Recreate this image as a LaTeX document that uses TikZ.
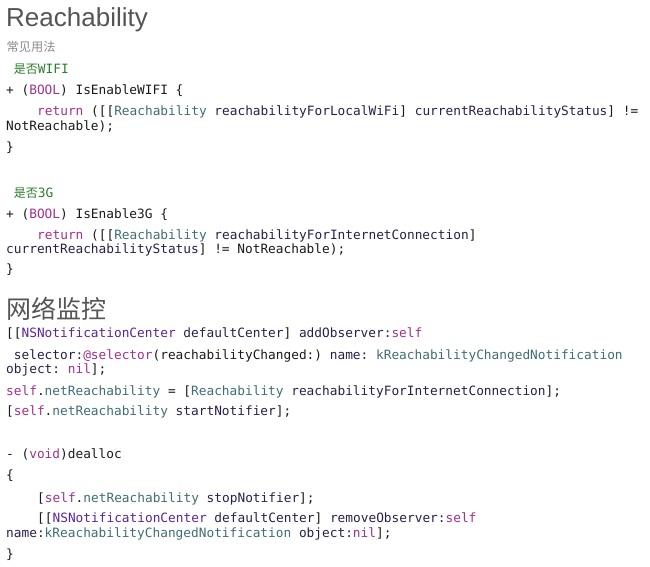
\documentclass[tikz,border=0pt]{standalone}
\usepackage{fontspec}
\setmainfont{Liberation Sans}
\setmonofont{DejaVu Sans Mono}
\newfontfamily\cjk{Noto Sans CJK SC}
\definecolor{kwc}{HTML}{A3308F}
\definecolor{nsc}{HTML}{5C2699}
\definecolor{pjc}{HTML}{3F6E74}
\definecolor{mtc}{HTML}{2B1F4A}
\definecolor{cmc}{HTML}{2A7F2A}
\definecolor{ttlc}{HTML}{555555}
\definecolor{subc}{HTML}{8A8A8A}
\definecolor{codec}{HTML}{1A1A1A}
\newcommand\kw[1]{\textcolor{kwc}{#1}}
\newcommand\nscl[1]{\textcolor{nsc}{#1}}
\newcommand\pj[1]{\textcolor{pjc}{#1}}
\newcommand\mt[1]{\textcolor{mtc}{#1}}
\tikzset{
  code/.style={anchor=base west, inner sep=0pt, text=codec, font=\fontsize{12.8}{15}\selectfont\ttfamily},
  cmt/.style={anchor=base west, inner sep=0pt, text=cmc, font=\fontsize{12.8}{15}\selectfont\ttfamily},
  ttl/.style={anchor=base west, inner sep=0pt, text=ttlc},
}
\begin{document}
\begin{tikzpicture}[x=1pt,y=-1pt]
\fill[white] (0,0) rectangle (650,567);
\useasboundingbox (0,0) rectangle (650,567);
% headings
\node[ttl, font=\fontsize{26}{30}\selectfont] (title) at (6,27) {Reachability};
\node[anchor=base west, inner sep=0pt, text=subc, font=\cjk\fontsize{12.2}{14}\selectfont] (sub) at (6.5,52) {常见用法};
% WIFI
\node[cmt] (c1) at (13.7,74) {{\cjk\fontsize{12}{14}\selectfont 是否}WIFI};
\node[code] (w1) at (6,95) {+ (\kw{BOOL}) IsEnableWIFI \{};
\node[code] (w2) at (37,116) {\kw{return} ([[\pj{Reachability} \mt{reachabilityForLocalWiFi}] \mt{currentReachabilityStatus}] !=};
\node[code] (w3) at (6,131) {NotReachable);};
\node[code] (w4) at (6,151) {\}};
% 3G
\node[cmt] (c2) at (13.7,197) {{\cjk\fontsize{12}{14}\selectfont 是否}3G};
\node[code] (g1) at (6,218) {+ (\kw{BOOL}) IsEnable3G \{};
\node[code] (g2) at (37,239) {\kw{return} ([[\pj{Reachability} \mt{reachabilityForInternetConnection}]};
\node[code] (g3) at (6,253) {\mt{currentReachabilityStatus}] != NotReachable);};
\node[code] (g4) at (6,273) {\}};
% monitoring
\node[anchor=base west, inner sep=0pt, text=ttlc, font=\cjk\fontsize{25}{28}\selectfont] (mon) at (6.5,318.5) {网络监控};
\node[code] (m1) at (6,337.5) {[[\nscl{NSNotificationCenter} \mt{defaultCenter}] \mt{addObserver:}\kw{self}};
\node[code] (m2) at (13.7,359) {\mt{selector:}\kw{@selector}(reachabilityChanged:) \mt{name:} \pj{kReachabilityChangedNotification}};
\node[code] (m3) at (6,373) {\mt{object:} \kw{nil}];};
\node[code] (m4) at (6,395) {\kw{self}.\pj{netReachability} = [\pj{Reachability} \mt{reachabilityForInternetConnection}];};
\node[code] (m5) at (6,415) {[\kw{self}.\pj{netReachability} \mt{startNotifier}];};
% dealloc
\node[code] (d1) at (6,458) {- (\kw{void})dealloc};
\node[code] (d2) at (6,479) {\{};
\node[code] (d3) at (37,502) {[\kw{self}.\pj{netReachability} \mt{stopNotifier}];};
\node[code] (d4) at (37,522) {[[\nscl{NSNotificationCenter} \mt{defaultCenter}] \mt{removeObserver:}\kw{self}};
\node[code] (d5) at (6,537) {\mt{name:}\pj{kReachabilityChangedNotification} \mt{object:}\kw{nil}];};
\node[code] (d6) at (6,558) {\}};
\end{tikzpicture}
\end{document}
